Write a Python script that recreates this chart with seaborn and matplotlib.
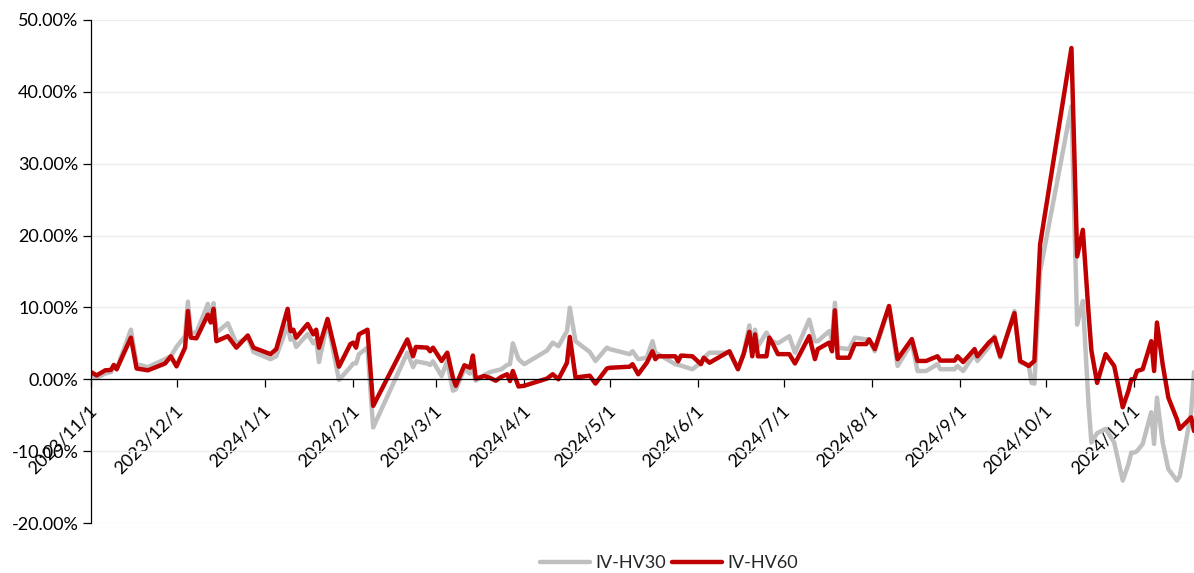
import matplotlib
matplotlib.use('Agg')
import matplotlib.pyplot as plt
import matplotlib.transforms as mtransforms
from matplotlib.ticker import FuncFormatter
import pandas as pd
import seaborn as sns

# dados (valores em %)
dates = [
    '2023-11-01', '2023-11-03', '2023-11-06', '2023-11-08', '2023-11-09', '2023-11-10',
    '2023-11-15', '2023-11-17', '2023-11-21', '2023-11-27', '2023-11-29', '2023-12-01',
    '2023-12-04', '2023-12-05', '2023-12-06', '2023-12-08', '2023-12-12', '2023-12-13',
    '2023-12-14', '2023-12-15', '2023-12-19', '2023-12-22', '2023-12-26', '2023-12-28',
    '2024-01-03', '2024-01-05', '2024-01-09', '2024-01-10', '2024-01-11', '2024-01-12',
    '2024-01-16', '2024-01-18', '2024-01-19', '2024-01-20', '2024-01-23', '2024-01-27',
    '2024-01-31', '2024-02-01', '2024-02-02', '2024-02-03', '2024-02-06', '2024-02-08',
    '2024-02-20', '2024-02-22', '2024-02-23', '2024-02-27', '2024-02-28', '2024-02-29',
    '2024-03-03', '2024-03-05', '2024-03-07', '2024-03-08', '2024-03-11', '2024-03-13',
    '2024-03-14', '2024-03-15', '2024-03-18', '2024-03-20', '2024-03-22', '2024-03-24',
    '2024-03-26', '2024-03-27', '2024-03-28', '2024-03-30', '2024-04-01', '2024-04-09',
    '2024-04-11', '2024-04-13', '2024-04-16', '2024-04-17', '2024-04-19', '2024-04-22',
    '2024-04-24', '2024-04-26', '2024-04-30', '2024-05-01', '2024-05-08', '2024-05-09',
    '2024-05-11', '2024-05-14', '2024-05-16', '2024-05-17', '2024-05-18', '2024-05-24',
    '2024-05-25', '2024-05-26', '2024-05-30', '2024-06-02', '2024-06-03', '2024-06-05',
    '2024-06-12', '2024-06-15', '2024-06-17', '2024-06-19', '2024-06-20', '2024-06-21',
    '2024-06-22', '2024-06-25', '2024-06-26', '2024-06-27', '2024-06-29', '2024-07-03',
    '2024-07-05', '2024-07-10', '2024-07-12', '2024-07-13', '2024-07-17', '2024-07-18',
    '2024-07-19', '2024-07-20', '2024-07-24', '2024-07-26', '2024-07-30', '2024-07-31',
    '2024-08-02', '2024-08-07', '2024-08-10', '2024-08-15', '2024-08-17', '2024-08-20',
    '2024-08-24', '2024-08-25', '2024-08-30', '2024-08-31', '2024-09-02', '2024-09-06',
    '2024-09-07', '2024-09-11', '2024-09-13', '2024-09-15', '2024-09-20', '2024-09-22',
    '2024-09-25', '2024-09-26', '2024-09-27', '2024-09-29', '2024-10-10', '2024-10-12',
    '2024-10-14', '2024-10-16', '2024-10-17', '2024-10-19', '2024-10-22', '2024-10-25',
    '2024-10-28', '2024-10-30', '2024-10-31', '2024-11-01', '2024-11-02', '2024-11-04',
    '2024-11-07', '2024-11-08', '2024-11-09', '2024-11-11', '2024-11-13', '2024-11-16',
    '2024-11-17', '2024-11-21', '2024-11-22',
]

iv_hv60 = [
    1.0, 0.55, 1.25, 1.3, 2.0, 1.4,
    5.8, 1.5, 1.25, 2.2, 3.2, 1.8,
    4.4, 9.5, 5.8, 5.7, 9.0, 7.9,
    9.8, 5.3, 6.0, 4.4, 6.1, 4.4,
    3.5, 4.2, 9.8, 6.7, 6.9, 5.8,
    7.7, 6.25, 6.9, 4.4, 8.4, 1.75,
    4.9, 5.1, 4.4, 6.25, 6.9, -3.7,
    5.55, 3.2, 4.5, 4.4, 3.9, 4.4,
    2.55, 3.7, 0.2, -0.9, 1.95, 1.6,
    3.3, 0.1, 0.45, 0.2, -0.2, 0.35,
    0.7, -0.25, 1.15, -1.0, -0.9, 0.1,
    0.7, 0.0, 2.3, 5.9, 0.25, 0.4,
    0.5, -0.6, 1.5, 1.6, 1.75, 2.1,
    0.7, 2.3, 3.9, 2.8, 3.2, 3.2,
    2.5, 3.3, 3.2, 2.1, 3.0, 2.3,
    3.9, 1.4, 3.5, 6.6, 3.2, 6.25,
    3.2, 3.2, 5.8, 5.1, 3.5, 3.5,
    2.2, 6.0, 2.8, 4.2, 5.1, 3.9,
    9.6, 3.0, 3.0, 4.9, 4.9, 5.55,
    4.2, 10.2, 2.8, 5.6, 2.55, 2.55,
    3.2, 2.6, 2.6, 3.2, 2.4, 4.2,
    3.2, 5.1, 5.8, 3.2, 9.2, 2.55,
    1.85, 2.2, 2.55, 18.75, 46.1, 17.1,
    20.8, 9.25, 4.0, -0.5, 3.5, 1.85,
    -3.9, -1.6, 0.0, 0.0, 1.15, 1.4,
    5.3, 1.15, 7.9, 2.1, -2.55, -5.55,
    -6.9, -5.3, -7.2,
]

iv_hv30 = [
    0.6, 0.2, 0.8, 1.0, 1.8, 1.4,
    6.9, 2.1, 1.7, 2.8, 3.2, 4.5,
    6.0, 10.8, 6.5, 6.5, 10.5, 8.5,
    10.6, 6.5, 7.8, 5.0, 5.8, 3.8,
    2.8, 3.2, 7.5, 5.5, 5.8, 4.5,
    6.3, 5.0, 5.5, 2.4, 8.0, -0.1,
    1.7, 2.2, 2.2, 3.5, 4.4, -6.7,
    3.7, 1.7, 2.5, 2.2, 2.0, 2.5,
    0.45, 2.5, -1.6, -1.4, 1.4, 0.8,
    1.2, -0.2, 0.6, 1.0, 1.2, 1.4,
    2.0, 2.1, 5.0, 2.8, 2.1, 4.0,
    5.1, 4.6, 6.7, 9.95, 5.3, 4.4,
    3.8, 2.55, 4.4, 4.2, 3.5, 3.9,
    2.8, 3.0, 5.3, 3.7, 3.5, 2.1,
    2.0, 1.9, 1.4, 2.3, 3.0, 3.7,
    3.7, 1.4, 3.7, 7.5, 4.2, 6.9,
    4.6, 6.5, 5.8, 5.3, 5.0, 6.0,
    3.7, 8.3, 5.3, 5.3, 6.7, 5.55,
    10.65, 4.4, 4.2, 5.8, 5.55, 5.55,
    3.9, 10.0, 1.85, 5.1, 1.15, 1.15,
    2.1, 1.4, 1.4, 1.85, 1.15, 3.5,
    2.55, 4.5, 6.0, 3.0, 9.5, 2.4,
    2.0, -0.5, -0.6, 15.0, 38.0, 7.6,
    10.9, -3.5, -8.8, -7.5, -6.9, -8.8,
    -14.1, -11.8, -10.2, -10.2, -10.0, -9.0,
    -4.6, -9.0, -2.55, -8.8, -12.5, -14.1,
    -13.5, -4.6, 1.0,
]

series_names = ['IV-HV30', 'IV-HV60']
series_colors = ['#BFBFBF', '#C00000']

tick_labels = ['2023/11/1', '2023/12/1', '2024/1/1', '2024/2/1', '2024/3/1', '2024/4/1',
               '2024/5/1', '2024/6/1', '2024/7/1', '2024/8/1', '2024/9/1', '2024/10/1',
               '2024/11/1']
y_ticks = [-20, -10, 0, 10, 20, 30, 40, 50]

# monta o DataFrame no formato longo
df = pd.DataFrame({'date': pd.to_datetime(dates), 'IV-HV30': iv_hv30, 'IV-HV60': iv_hv60})
df_long = df.melt(id_vars='date', var_name='serie', value_name='valor')

sns.set_style('white')
plt.rcParams['font.family'] = ['Lato', 'DejaVu Sans']

fig = plt.figure(figsize=(11.94, 5.73), dpi=100)
ax = fig.add_axes([91 / 1194, 1 - 523 / 573, 1 - 91 / 1194, 503 / 573])

sns.lineplot(data=df_long, x='date', y='valor', hue='serie', hue_order=series_names,
             palette=dict(zip(series_names, series_colors)), estimator=None,
             linewidth=3.2, ax=ax)

ax.set_xlim(pd.Timestamp('2023-11-01'), pd.Timestamp('2024-11-22'))
ax.set_ylim(-20, 50)
ax.set_xlabel('')
ax.set_ylabel('')

# eixos e grade
ax.spines['top'].set_visible(False)
ax.spines['right'].set_visible(False)
ax.spines['bottom'].set_position(('data', 0))
for s in ['left', 'bottom']:
    ax.spines[s].set_color('black')
    ax.spines[s].set_linewidth(0.9)
ax.set_axisbelow(True)
ax.yaxis.grid(True, color='#EDEDED', linewidth=1)
ax.xaxis.grid(False)

ax.set_yticks(y_ticks)
ax.yaxis.set_major_formatter(FuncFormatter(lambda v, p: '%.2f%%' % v))
ax.set_xticks(pd.to_datetime(tick_labels, format='%Y/%m/%d'))
ax.set_xticklabels(tick_labels)

ax.tick_params(axis='y', direction='out', length=6, width=0.9, pad=3,
               labelsize=13, colors='black', left=True)
ax.tick_params(axis='x', direction='out', length=6, width=0.9, pad=11,
               labelsize=13, colors='black', bottom=True)

offset = mtransforms.ScaledTranslation(9 / 100, 0, fig.dpi_scale_trans)
for lbl in ax.get_xticklabels():
    lbl.set_rotation(45)
    lbl.set_ha('right')
    lbl.set_va('top')
    lbl.set_transform(lbl.get_transform() + offset)

# legenda embaixo
handles, labels = ax.get_legend_handles_labels()
ax.legend(handles, labels, loc='center', bbox_to_anchor=(669 / 1194, 1 - 563 / 573),
          bbox_transform=fig.transFigure, ncol=2, frameon=False, fontsize=13,
          handlelength=2.8, handletextpad=0.3, columnspacing=0.3)
for line in ax.get_legend().get_lines():
    line.set_linewidth(3.2)

fig.savefig('out.png', dpi=100)
